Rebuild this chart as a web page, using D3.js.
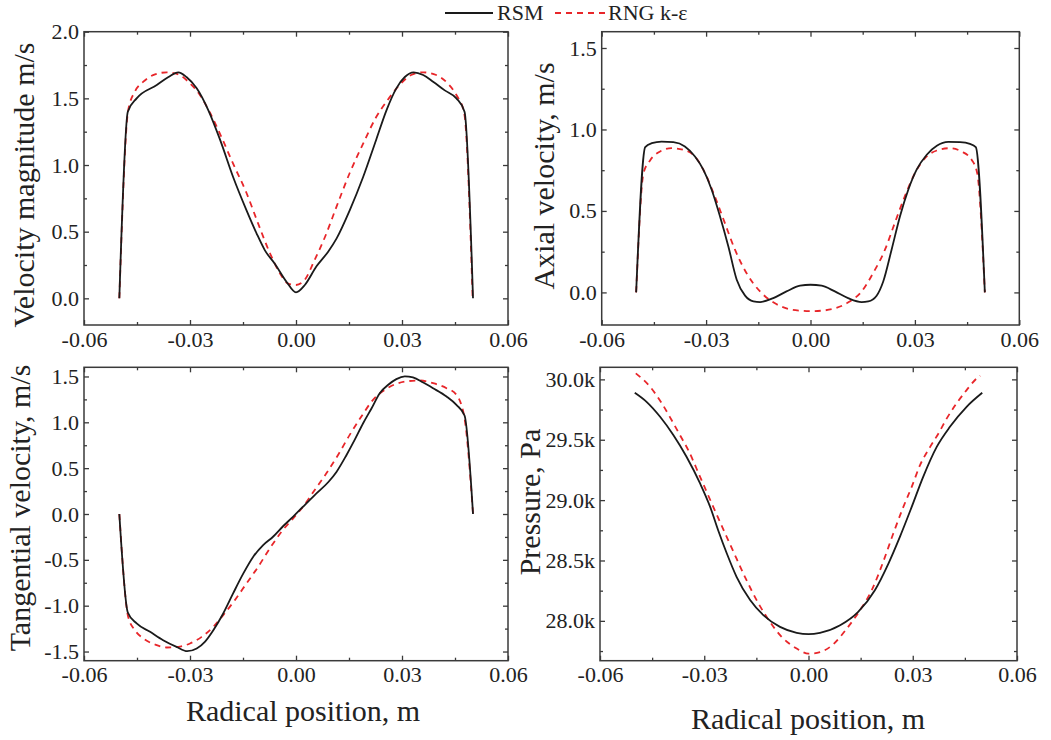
<!DOCTYPE html>
<html>
<head>
<meta charset="utf-8">
<script src="https://d3js.org/d3.v7.min.js"></script>
<style>
body { margin: 0; background: #fff; }
svg text { font-family: "Liberation Serif", "Times New Roman", serif; fill: #222; }
.frame { fill: none; stroke: #3a3a3a; stroke-width: 1.5px; }
.axis path { display: none; }
.axis line { stroke: #3a3a3a; stroke-width: 1.3px; }
.axis text { font-size: 22px; fill: #222; }
.rsm { fill: none; stroke: #1a1a1a; stroke-width: 1.8px; }
.rng { fill: none; stroke: #e8262a; stroke-width: 1.8px; stroke-dasharray: 6,5; }
</style>
</head>
<body>
<svg id="chart" width="1051" height="740" font-family="Liberation Serif, serif"></svg>
<script>
// radial position (m) vs value
var velMagRsm = [[-0.05,0],[-0.0476,1.40],[-0.0451,1.50],[-0.0394,1.60],[-0.0361,1.66],[-0.0333,1.695],
  [-0.031,1.66],[-0.0281,1.575],[-0.0248,1.41],[-0.0215,1.19],[-0.0178,0.91],[-0.014,0.66],[-0.0112,0.49],
  [-0.0088,0.36],[-0.006,0.26],[-0.0027,0.125],[0,0.045],[0.0025,0.10],[0.0058,0.24],[0.0091,0.35],
  [0.0115,0.45],[0.0152,0.66],[0.019,0.91],[0.0227,1.19],[0.0256,1.41],[0.0284,1.575],[0.0308,1.66],
  [0.0333,1.695],[0.036,1.675],[0.0388,1.625],[0.0421,1.56],[0.0454,1.50],[0.0477,1.40],[0.0501,0]];
var velMagRng = [[-0.05,0],[-0.0475,1.41],[-0.0456,1.55],[-0.0432,1.625],[-0.0399,1.68],[-0.0366,1.695],
  [-0.0333,1.68],[-0.0305,1.625],[-0.0272,1.525],[-0.0243,1.39],[-0.0211,1.21],[-0.0178,1.01],[-0.014,0.79],
  [-0.0107,0.56],[-0.0074,0.34],[-0.0046,0.19],[-0.0022,0.11],[0,0.10],[0.0025,0.14],[0.0053,0.29],
  [0.0082,0.46],[0.0115,0.69],[0.0152,0.94],[0.019,1.16],[0.0227,1.36],[0.026,1.49],[0.0293,1.60],
  [0.0326,1.675],[0.036,1.695],[0.0397,1.675],[0.043,1.61],[0.0454,1.525],[0.0476,1.39],[0.05,0]];

var axialRsm = [[-0.0501,0],[-0.0475,0.892],[-0.0456,0.916],[-0.0428,0.926],[-0.0394,0.922],[-0.0361,0.896],
  [-0.0332,0.834],[-0.0308,0.753],[-0.0284,0.63],[-0.026,0.466],[-0.0236,0.282],[-0.0212,0.078],[-0.0188,-0.02],
  [-0.0164,-0.055],[-0.0145,-0.059],[-0.0107,-0.035],[-0.0069,0.006],[-0.003,0.041],[0,0.047],[0.0032,0.041],
  [0.007,0.006],[0.0108,-0.035],[0.0147,-0.059],[0.0166,-0.055],[0.019,-0.02],[0.0209,0.067],[0.0233,0.262],
  [0.0257,0.466],[0.0281,0.63],[0.0305,0.753],[0.0334,0.845],[0.0363,0.90],[0.0396,0.924],[0.043,0.922],
  [0.0458,0.912],[0.0475,0.892],[0.0501,0]];
var axialRng = [[-0.0501,0],[-0.048,0.73],[-0.0461,0.81],[-0.0432,0.865],[-0.0399,0.885],[-0.0365,0.875],
  [-0.0332,0.834],[-0.0303,0.732],[-0.0275,0.589],[-0.0246,0.425],[-0.0217,0.262],[-0.0184,0.119],[-0.0145,0.006],
  [-0.0107,-0.061],[-0.0069,-0.098],[-0.003,-0.112],[0,-0.115],[0.0032,-0.112],[0.007,-0.098],[0.0109,-0.061],
  [0.0147,0.006],[0.018,0.119],[0.0214,0.262],[0.0242,0.425],[0.0271,0.589],[0.03,0.732],[0.0329,0.824],
  [0.0363,0.871],[0.04,0.885],[0.0434,0.865],[0.0463,0.814],[0.0479,0.732],[0.0501,0]];

var tangRsm = [[-0.05,0],[-0.0476,-1.074],[-0.0451,-1.194],[-0.0413,-1.285],[-0.0376,-1.376],[-0.0338,-1.449],
  [-0.0308,-1.496],[-0.0281,-1.467],[-0.0258,-1.394],[-0.0234,-1.267],[-0.0206,-1.085],[-0.0178,-0.866],
  [-0.0149,-0.648],[-0.0121,-0.466],[-0.0093,-0.339],[-0.0065,-0.248],[-0.0036,-0.131],[-0.0008,-0.029],
  [0.002,0.08],[0.0053,0.207],[0.0091,0.346],[0.0115,0.462],[0.0143,0.644],[0.0166,0.808],[0.019,0.99],
  [0.0214,1.154],[0.0237,1.318],[0.0261,1.409],[0.0284,1.471],[0.0308,1.50],[0.0331,1.489],[0.036,1.434],
  [0.0388,1.372],[0.0426,1.281],[0.0454,1.19],[0.0477,1.074],[0.0501,0]];
var tangRng = [[-0.05,0],[-0.0475,-1.12],[-0.0456,-1.267],[-0.0432,-1.358],[-0.0399,-1.423],[-0.0366,-1.456],
  [-0.0333,-1.449],[-0.03,-1.412],[-0.0267,-1.34],[-0.0234,-1.23],[-0.0206,-1.103],[-0.0173,-0.939],
  [-0.014,-0.757],[-0.0107,-0.575],[-0.0074,-0.375],[-0.0041,-0.193],[-0.0008,-0.047],[0.002,0.08],
  [0.0053,0.262],[0.0086,0.444],[0.0119,0.644],[0.0152,0.863],[0.0185,1.063],[0.0218,1.245],[0.0251,1.354],
  [0.0284,1.42],[0.0317,1.449],[0.035,1.456],[0.0388,1.427],[0.0426,1.372],[0.0454,1.30],[0.0468,1.19],
  [0.0477,1.045],[0.0501,0]];

var presRsm = [[-0.05,29889],[-0.0466,29814],[-0.0427,29690],[-0.0389,29539],[-0.0351,29359],[-0.0312,29138],
  [-0.0283,28944],[-0.026,28751],[-0.0235,28558],[-0.0207,28365],[-0.0168,28172],[-0.013,28047],[-0.0082,27950],
  [-0.0034,27901],[0,27890],[0.0033,27901],[0.0091,27964],[0.0143,28075],[0.0191,28254],[0.023,28475],
  [0.0263,28696],[0.0297,28944],[0.033,29193],[0.0369,29441],[0.0407,29607],[0.0455,29773],[0.05,29889]];
var presRng = [[-0.0497,30050],[-0.0456,29939],[-0.0422,29801],[-0.0394,29663],[-0.037,29539],[-0.0346,29414],
  [-0.0312,29193],[-0.0274,28944],[-0.024,28724],[-0.0216,28572],[-0.0183,28365],[-0.0144,28144],[-0.0111,27992],
  [-0.0077,27867],[-0.0034,27771],[0,27728],[0.0033,27741],[0.0071,27805],[0.011,27935],[0.0148,28087],
  [0.0182,28254],[0.0215,28489],[0.0244,28724],[0.0273,28944],[0.0297,29110],[0.0321,29290],[0.035,29441],
  [0.0374,29552],[0.0398,29677],[0.0426,29801],[0.0455,29911],[0.0484,30008],[0.0494,30030]];

var xTicks = [-0.06, -0.03, 0, 0.03, 0.06];
var xMinor = [-0.045, -0.015, 0.015, 0.045];
var seriesNames = ["RSM", "RNG k-\u03b5"];

var svg = d3.select("#chart");

var panels = [
  { box: [84, 31.7, 508, 325], ydom: [-0.2, 2.0], step: 0.5, rsm: velMagRsm, rng: velMagRng,
    title: "Velocity magnitude m/s", tx: 34, ty: 185, xtitle: null, fmt: function(d) { return d.toFixed(1); } },
  { box: [601.7, 31.7, 1019.3, 325], ydom: [-0.2, 1.6], step: 0.5, rsm: axialRsm, rng: axialRng,
    title: "Axial velocity, m/s", tx: 554, ty: 176, xtitle: null, fmt: function(d) { return d.toFixed(1); } },
  { box: [84, 367.3, 508, 660.7], ydom: [-1.6, 1.6], step: 0.5, rsm: tangRsm, rng: tangRng,
    title: "Tangential velocity, m/s", tx: 30, ty: 508, xtitle: [303, 720.5], fmt: function(d) { return d.toFixed(1); } },
  { box: [600, 367.3, 1017, 660.7], ydom: [27670, 30100], step: 500, rsm: presRsm, rng: presRng,
    title: "Pressure, Pa", tx: 540, ty: 502, xtitle: [808, 729], fmt: function(d) { return (d / 1000).toFixed(1) + "k"; } }
];

panels.forEach(function(p) {
  var x0 = p.box[0], y0 = p.box[1], x1 = p.box[2], y1 = p.box[3];
  var x = d3.scaleLinear().domain([-0.06, 0.06]).range([x0, x1]);
  var y = d3.scaleLinear().domain(p.ydom).range([y1, y0]);

  var first = Math.ceil(p.ydom[0] / p.step) * p.step;
  var major = d3.range(first, p.ydom[1] + 1e-9, p.step);
  var minor = d3.range(Math.ceil(p.ydom[0] / (p.step / 2)) * (p.step / 2), p.ydom[1] + 1e-9, p.step / 2)
    .filter(function(v) { return Math.abs(v / p.step - Math.round(v / p.step)) > 1e-6; });

  var g = svg.append("g");

  // curves
  var line = d3.line()
    .x(function(d) { return x(d[0]); })
    .y(function(d) { return y(d[1]); })
    .curve(d3.curveMonotoneX);
  g.append("path").attr("class", "rng").attr("d", line(p.rng));
  g.append("path").attr("class", "rsm").attr("d", line(p.rsm));

  // axes, ticks inward on all four sides
  g.append("g").attr("class", "axis").attr("transform", "translate(" + x0 + ",0)")
    .call(d3.axisLeft(y).tickValues(major).tickSize(-5).tickPadding(5).tickFormat(p.fmt));
  g.append("g").attr("class", "axis").attr("transform", "translate(" + x0 + ",0)")
    .call(d3.axisLeft(y).tickValues(minor).tickSize(-3).tickFormat(""));
  g.append("g").attr("class", "axis").attr("transform", "translate(" + x1 + ",0)")
    .call(d3.axisRight(y).tickValues(major).tickSize(-5).tickFormat(""));
  g.append("g").attr("class", "axis").attr("transform", "translate(" + x1 + ",0)")
    .call(d3.axisRight(y).tickValues(minor).tickSize(-3).tickFormat(""));

  g.append("g").attr("class", "axis").attr("transform", "translate(0," + y1 + ")")
    .call(d3.axisBottom(x).tickValues(xTicks).tickSize(-5).tickPadding(6)
      .tickFormat(function(d) { return d.toFixed(2); }));
  g.append("g").attr("class", "axis").attr("transform", "translate(0," + y1 + ")")
    .call(d3.axisBottom(x).tickValues(xMinor).tickSize(-3).tickFormat(""));
  g.append("g").attr("class", "axis").attr("transform", "translate(0," + y0 + ")")
    .call(d3.axisTop(x).tickValues(xTicks).tickSize(-5).tickFormat(""));
  g.append("g").attr("class", "axis").attr("transform", "translate(0," + y0 + ")")
    .call(d3.axisTop(x).tickValues(xMinor).tickSize(-3).tickFormat(""));

  g.append("rect").attr("class", "frame")
    .attr("x", x0).attr("y", y0).attr("width", x1 - x0).attr("height", y1 - y0);

  // titles
  g.append("text")
    .attr("transform", "translate(" + p.tx + "," + p.ty + ") rotate(-90)")
    .attr("text-anchor", "middle")
    .style("font-size", "30px")
    .text(p.title);
  if (p.xtitle) {
    g.append("text")
      .attr("x", p.xtitle[0]).attr("y", p.xtitle[1])
      .attr("text-anchor", "middle")
      .style("font-size", "30px")
      .text("Radical position, m");
  }
});

// legend
var leg = svg.append("g");
leg.append("line").attr("class", "rsm").attr("x1", 445).attr("x2", 493).attr("y1", 13).attr("y2", 13);
leg.append("text").attr("x", 497).attr("y", 20).style("font-size", "22px").text(seriesNames[0]);
leg.append("line").attr("class", "rng").attr("x1", 555).attr("x2", 605).attr("y1", 13).attr("y2", 13);
leg.append("text").attr("x", 608).attr("y", 20).style("font-size", "22px").text(seriesNames[1]);
</script>
</body>
</html>
